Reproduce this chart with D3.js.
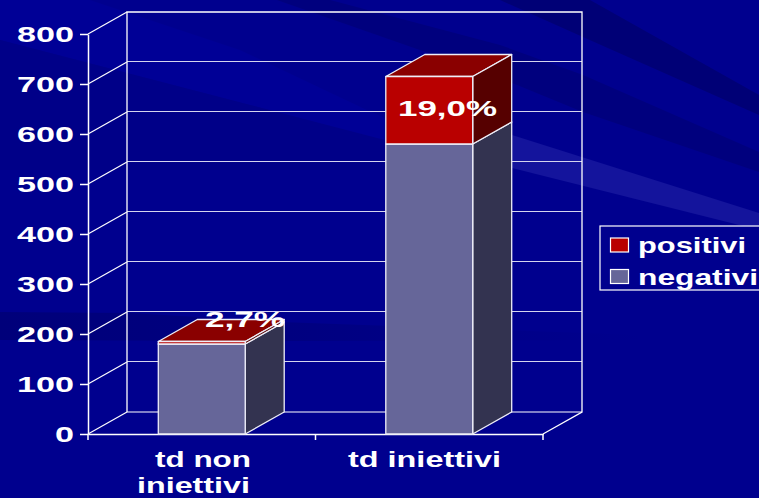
<!DOCTYPE html>
<html>
<head>
<meta charset="utf-8">
<script src="https://cdn.jsdelivr.net/npm/d3@7"></script>
<style>
html,body{margin:0;padding:0;background:#00008e;overflow:hidden;}
text{font-family:"Liberation Sans",Arial,sans-serif;font-weight:bold;fill:#fff;}
</style>
</head>
<body>
<div id="chart"></div>
<script>
(function(){

const categories = ["td non iniettivi","td iniettivi"];
const negativi = [180,580];
const positivi = [5,135];
const percent = ["2,7%","19,0%"];
const yTicks = [0,100,200,300,400,500,600,700,800];

const width = 759;
const height = 498;
const margin = {top:34,left:88,bottom:64,right:216};
const depth = {x:39,y:-22};

const svg = d3.select("#chart")
.append("svg")
.attr("width",width)
.attr("height",height)
.style("display","block");

const defs = svg.append("defs");
const fade = defs.append("linearGradient").attr("id","fade");
fade.append("stop").attr("offset","0").attr("stop-color","#00007a");
fade.append("stop").attr("offset","0.45").attr("stop-color","#000080");
fade.append("stop").attr("offset","1").attr("stop-color","#00008e");

// background bands
const bands = [
{fill:"#000096",pts:"0,0 90,0 240,50 367,110 500,170 380,140 250,105 0,40"},
{fill:"#000088",pts:"0,40 250,105 500,170 0,170"},
{fill:"#00007e",pts:"330,0 500,45 583,75 759,152 759,172 583,112 500,78 277,0"},
{fill:"#000076",pts:"500,0 590,0 759,95 759,115 583,37"},
{fill:"#14149c",pts:"512,135 759,213 759,230 512,168"},
{fill:"url(#fade)",pts:"0,312 130,313 280,322 640,335 640,340 280,341 0,340"}
];
svg.selectAll("polygon.band")
.data(bands)
.enter()
.append("polygon")
.attr("class","band")
.attr("points",d=>d.pts)
.attr("fill",d=>d.fill);

const x = d3.scaleBand()
.domain(categories)
.range([margin.left,width-margin.right])
.paddingInner(0.618)
.paddingOuter(0.309);

const x0 = d3.scaleBand()
.domain(categories)
.range([margin.left,width-margin.right]);

const y = d3.scaleLinear()
.domain([0,800])
.range([height-margin.bottom,margin.top]);

// back wall and gridlines
const xLeft = margin.left, xRight = width-margin.right;
const grid = svg.append("g");
grid.selectAll("line.h")
.data(yTicks.slice(1,-1))
.enter()
.append("line")
.attr("x1",xLeft+depth.x)
.attr("x2",xRight+depth.x)
.attr("y1",d=>y(d)+depth.y-0.5)
.attr("y2",d=>y(d)+depth.y-0.5)
.attr("stroke","#d4d4ee")
.attr("stroke-width",1.2);
grid.selectAll("line.s")
.data(yTicks)
.enter()
.append("line")
.attr("x1",xLeft)
.attr("x2",xLeft+depth.x)
.attr("y1",d=>y(d))
.attr("y2",d=>y(d)+depth.y)
.attr("stroke","#fff")
.attr("stroke-width",1.2);
grid.append("polyline")
.attr("points",`${xLeft+depth.x},${y(0)+depth.y} ${xLeft+depth.x},${y(800)+depth.y} ${xRight+depth.x},${y(800)+depth.y} ${xRight+depth.x},${y(0)+depth.y} ${xRight},${y(0)}`)
.attr("fill","none")
.attr("stroke","#fff")
.attr("stroke-width",1.3);
grid.append("line")
.attr("x1",xLeft+depth.x)
.attr("x2",xRight+depth.x)
.attr("y1",y(0)+depth.y)
.attr("y2",y(0)+depth.y)
.attr("stroke","#fff")
.attr("stroke-width",1.2);

// axes
const yAxis = svg.append("g")
.attr("transform",`translate(${margin.left},0)`)
.call(d3.axisLeft(y).tickValues(yTicks).tickSize(8).tickPadding(6).tickSizeOuter(0));
yAxis.selectAll("path,line").attr("stroke","#fff").attr("stroke-width",1.5);
yAxis.selectAll("text")
.attr("font-size",22)
.style("font-family","\"Liberation Sans\",Arial,sans-serif")
.attr("textLength",d=>d===0?19:57)
.attr("lengthAdjust","spacingAndGlyphs");

const xAxis = svg.append("g")
.attr("transform",`translate(0,${height-margin.bottom})`)
.call(d3.axisBottom(x0).tickValues([]).tickSizeOuter(0));
xAxis.select("path").attr("stroke","#fff").attr("stroke-width",1.5);
xAxis.selectAll("line.edge")
.data(d3.range(categories.length+1))
.enter()
.append("line")
.attr("class","edge")
.attr("x1",i=>margin.left+i*x0.step())
.attr("x2",i=>margin.left+i*x0.step())
.attr("y1",0)
.attr("y2",6)
.attr("stroke","#fff")
.attr("stroke-width",1.5);

// 3d boxes
function box(g,cat,v0,v1,front,top,side){
const xa = x(cat), xb = x(cat)+x.bandwidth();
const ya = y(v1), yb = y(v0);
const dx = depth.x, dy = depth.y;
g.append("polygon")
.attr("points",`${xa},${ya} ${xb},${ya} ${xb+dx},${ya+dy} ${xa+dx},${ya+dy}`)
.attr("fill",top);
g.append("polygon")
.attr("points",`${xb},${ya} ${xb+dx},${ya+dy} ${xb+dx},${yb+dy} ${xb},${yb}`)
.attr("fill",side);
g.append("rect")
.attr("x",xa)
.attr("y",ya)
.attr("width",x.bandwidth())
.attr("height",yb-ya)
.attr("fill",front);
g.selectAll("polygon,rect")
.attr("stroke","#eeeef8")
.attr("stroke-width",1.3)
.attr("stroke-linejoin","round");
}

categories.forEach((c,i)=>{
const g = svg.append("g");
box(g,c,0,negativi[i],"#666699","#4d4d73","#333350");
box(g,c,negativi[i],negativi[i]+positivi[i],"#b90000","#8a0000","#560000");
});

// percent labels
const pctX = [245,447.5];
const pctY = [327,116];
const pctW = [80,99];
svg.selectAll("text.pct")
.data(percent)
.enter()
.append("text")
.attr("class","pct")
.attr("x",(d,i)=>pctX[i])
.attr("y",(d,i)=>pctY[i])
.attr("text-anchor","middle")
.attr("font-size",22)
.attr("textLength",(d,i)=>pctW[i])
.attr("lengthAdjust","spacingAndGlyphs")
.text(d=>d);

// category labels
const catLabels = [
{t:"td non",cx:203,by:467,w:96},
{t:"iniettivi",cx:193.5,by:493,w:113},
{t:"td iniettivi",cx:424.5,by:467,w:153}
];
svg.selectAll("text.cat")
.data(catLabels)
.enter()
.append("text")
.attr("class","cat")
.attr("x",d=>d.cx)
.attr("y",d=>d.by)
.attr("text-anchor","middle")
.attr("font-size",22)
.attr("textLength",d=>d.w)
.attr("lengthAdjust","spacingAndGlyphs")
.text(d=>d.t);

// legend
const legend = svg.append("g");
legend.append("rect")
.attr("x",600)
.attr("y",226)
.attr("width",170)
.attr("height",64)
.attr("fill","#00008e")
.attr("stroke","#fff")
.attr("stroke-width",1.2);
const legendItems = ["positivi","negativi"];
const legendColors = ["#b90000","#666699"];
const legendW = [108,120];
legendItems.forEach((t,i)=>{
legend.append("rect")
.attr("x",610.5)
.attr("y",238+i*31.5)
.attr("width",18)
.attr("height",14)
.attr("fill",legendColors[i])
.attr("stroke","#fff")
.attr("stroke-width",1.2);
legend.append("text")
.attr("x",638)
.attr("y",253+i*31.5)
.attr("font-size",22)
.attr("textLength",legendW[i])
.attr("lengthAdjust","spacingAndGlyphs")
.text(t);
});

})();
</script>
</body>
</html>
